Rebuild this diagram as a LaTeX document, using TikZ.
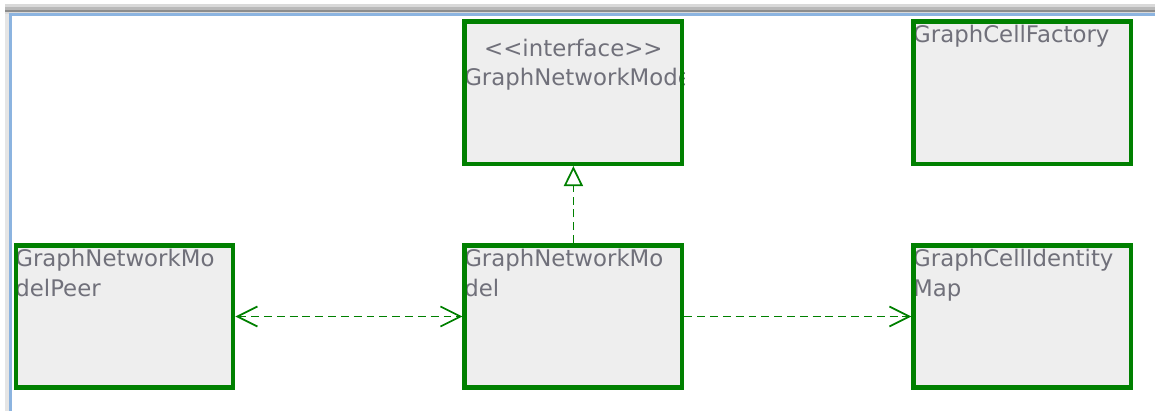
\documentclass[tikz,border=0pt]{standalone}
\usepackage{fontspec}
\newfontfamily\umlfont{DejaVu Sans}
\usepackage{tikz}
\usetikzlibrary{positioning, arrows.meta}

\definecolor{umlgreen}{RGB}{0,128,0}
\definecolor{boxfill}{RGB}{238,238,238}
\definecolor{namegray}{RGB}{112,112,122}
\definecolor{framegray}{RGB}{140,140,140}
\definecolor{frameblue}{RGB}{140,180,224}

\begin{document}
\begin{tikzpicture}[x=0.02cm, y=0.02cm,
  class node/.style={rectangle, draw=umlgreen, fill=boxfill, line width=0.09cm,
    minimum width=4.35cm, minimum height=2.85cm, inner sep=0pt},
  class frame/.style={draw=umlgreen, line width=0.09cm},
  class name/.style={inner sep=0pt, align=left, text=namegray,
    font=\umlfont\fontsize{13}{17}\selectfont},
  dep/.style={draw=umlgreen, line width=0.035cm, dash pattern=on 4.5pt off 2.8pt},
  barb/.tip={Straight Barb[length=0.4cm, width=0.4cm]},
  realize/.tip={Triangle[open, length=0.4cm, width=0.38cm]}]

\useasboundingbox (0,0) rectangle (1155,411);

% window frame
\fill[gray!30] (5,397) rectangle (1155,407);
\fill[gray!55] (5,398.5) rectangle (1155,404);
\fill[framegray] (5,398.5) rectangle (1155,401);
\fill[gray!20] (5,0) rectangle (8.5,397);
\fill[frameblue] (9,394.5) rectangle (1155,397.5);
\fill[frameblue] (9,0) rectangle (11.5,397.5);

% classes
\node[class node] (peer) at (124.5,94.5) {};
\node[class node] (model) [right=4.54cm of peer] {};
\node[class node] (idmap) [right=4.54cm of model] {};
\node[class node] (iface) [above=1.54cm of model] {};
\node[class node] (factory) [above=1.54cm of idmap] {};

\node[class name] (peername) [below right=0.12cm and 0.03cm of peer.north west] {GraphNetworkMo\\delPeer};
\node[class name] (modelname) [below right=0.12cm and 0.03cm of model.north west] {GraphNetworkMo\\del};
\node[class name] (idmapname) [below right=0.12cm and 0.03cm of idmap.north west] {GraphCellIdentity\\Map};
\node[class name] (factoryname) [below right=0.12cm and 0.03cm of factory.north west] {GraphCellFactory};
\node[class name] (ifacestereo) [below=0.4cm of iface.north] {<<interface>>};
\begin{scope}
  \clip (iface.north west) rectangle (iface.south east);
  \node[class name] (ifacename) [below right=0.98cm and 0.03cm of iface.north west] {GraphNetworkModel};
\end{scope}

% borders over the names
\foreach \c in {peer,model,idmap,iface,factory}
  \draw[class frame] ([shift={(0.045cm,-0.045cm)}]\c.north west) rectangle ([shift={(-0.045cm,0.045cm)}]\c.south east);

% relations
\draw[dep, -realize] (model) -- (iface);
\draw[dep, barb-barb] (peer) -- (model);
\draw[dep, -barb] (model) -- (idmap);

\end{tikzpicture}
\end{document}
